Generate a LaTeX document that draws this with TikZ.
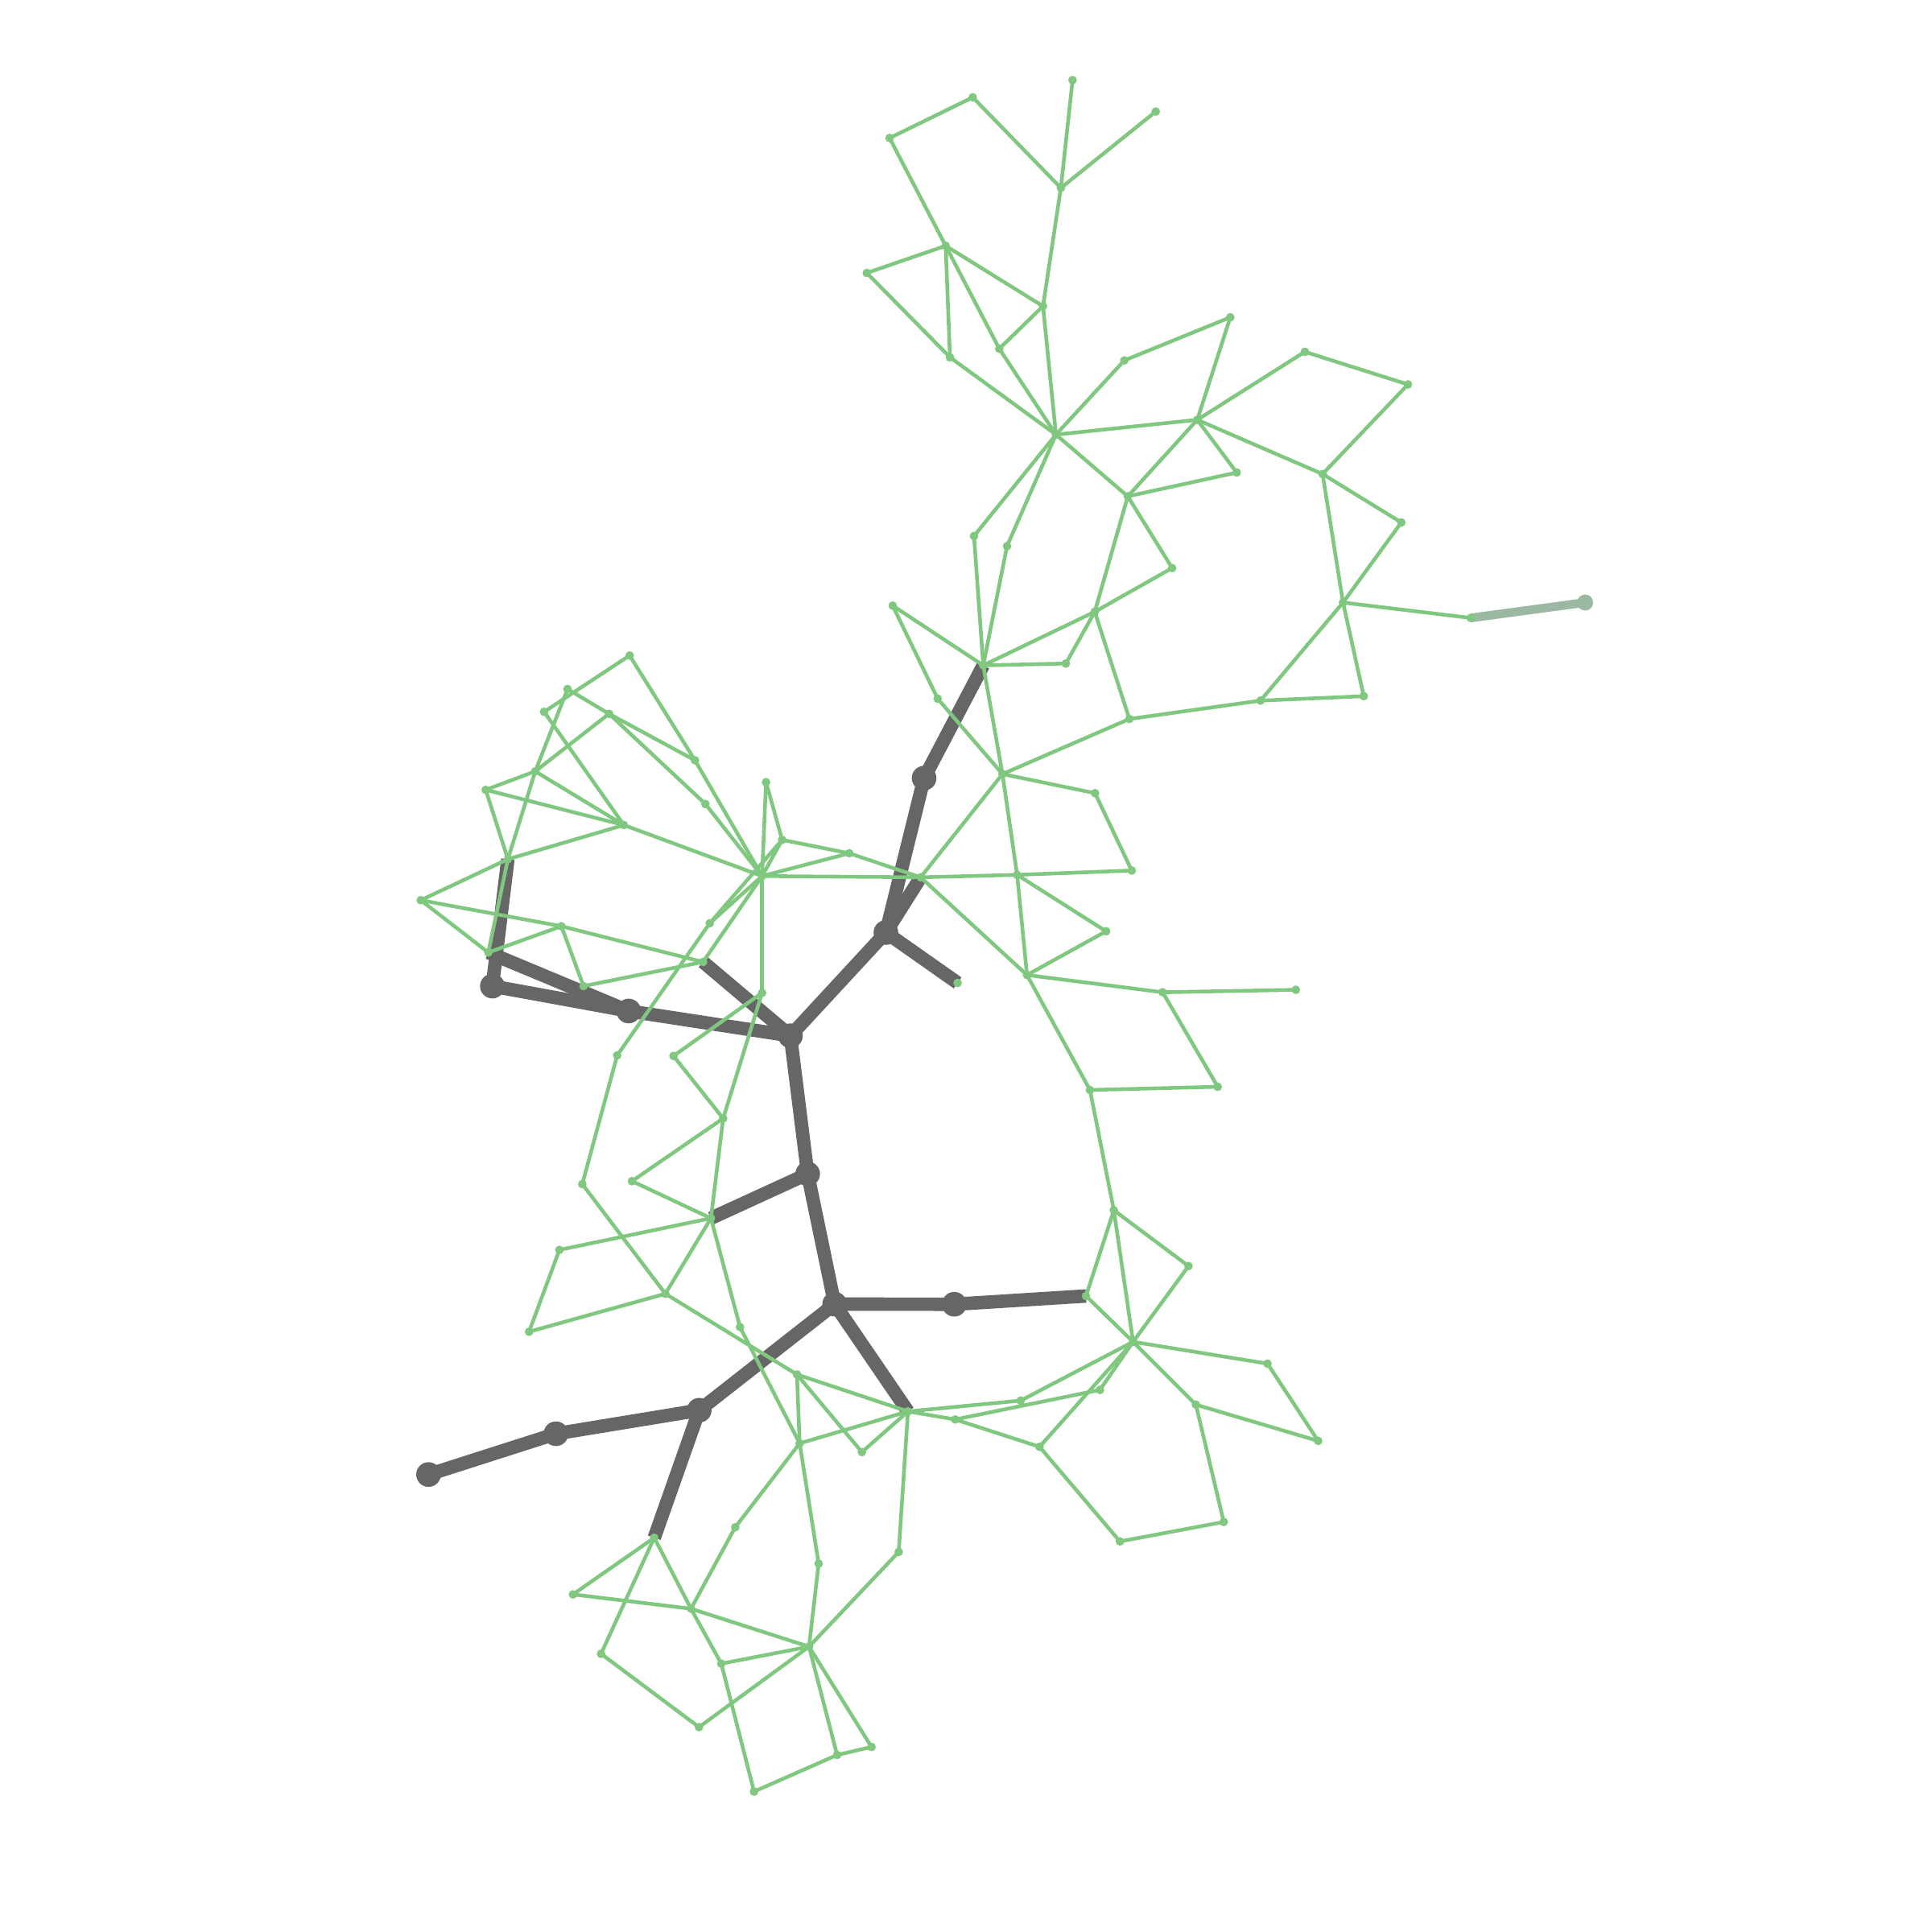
\documentclass[tikz,border=0pt]{standalone}
\usepackage{tikz}
\usetikzlibrary{calc}
\definecolor{edgegreen}{RGB}{128,200,128}
\definecolor{pathgray}{RGB}{102,102,102}
\definecolor{fadegreen}{RGB}{155,184,163}

\begin{document}
\begin{tikzpicture}[x=0.01cm, y=-0.01cm]
    % Define styles with \tikzset
    \tikzset{
        greenedge/.style={draw=edgegreen, line width=0.85pt},
        grayedge/.style={draw=pathgray, line width=3.1pt},
        fadeedge/.style={draw=fadegreen, line width=2pt},
        greendot/.style={fill=edgegreen},
        graydot/.style={fill=pathgray},
        fadedot/.style={fill=fadegreen}
    }
    \useasboundingbox (0,0) rectangle (1568,1568);

    % --- TOP BRANCH ---
    \coordinate (a0) at (857,352.7);
    \coordinate (a1) at (870.5,65);
    \coordinate (a2) at (938,90.5);
    \coordinate (a3) at (789.5,79);
    \coordinate (a4) at (722,112);
    \coordinate (a5) at (861,152.5);
    \coordinate (a6) at (767.5,199.5);
    \coordinate (a7) at (703.5,221.5);
    \coordinate (a8) at (846.5,248.5);
    \coordinate (a9) at (811,283);
    \coordinate (a10) at (771,290);
    \coordinate (a11) at (912.5,292.5);
    \coordinate (a12) at (998.5,257.5);
    \coordinate (a13) at (971.7,340.7);
    \coordinate (a14) at (1003.7,383.5);
    \coordinate (a15) at (1059,285.5);
    \coordinate (a16) at (1142.7,312);
    \coordinate (a17) at (1073.4,384.7);
    \coordinate (a18) at (1137.3,424);
    \coordinate (a19) at (915.3,402.8);
    \coordinate (a20) at (951.3,461);
    \coordinate (a21) at (790.5,435);
    \coordinate (a22) at (817.3,443.2);
    \coordinate (a23) at (888.5,496.5);
    \coordinate (a24) at (1090,489);
    \coordinate (a25) at (1193.6,501.5);
    \coordinate (a26) at (1106.8,565);
    \coordinate (a27) at (1023,568.6);
    \coordinate (a28) at (916.6,583.5);
    \coordinate (a29) at (865,538.5);
    \coordinate (a30) at (798,540);

    % --- RIGHT COLUMN ---
    \coordinate (a31) at (724.5,491.5);
    \coordinate (a32) at (761,567);
    \coordinate (a33) at (813.6,628.2);
    \coordinate (a34) at (888.7,643.7);
    \coordinate (a35) at (918.5,706.5);
    \coordinate (a36) at (747.2,712);
    \coordinate (a37) at (825.5,710);
    \coordinate (a38) at (897.7,755.8);
    \coordinate (a39) at (833.5,791.3);
    \coordinate (a40) at (943.6,805.3);
    \coordinate (a41) at (1051.7,803.3);
    \coordinate (a42) at (884.6,884.6);
    \coordinate (a43) at (988.3,882);
    \coordinate (a44) at (904,982.2);
    \coordinate (a45) at (964.6,1027.5);
    \coordinate (a46) at (881.4,1051.8);
    \coordinate (a47) at (919.6,1089);
    \coordinate (a48) at (1028.7,1106.7);
    \coordinate (a49) at (1069.8,1169.4);
    \coordinate (a50) at (970.6,1140);
    \coordinate (a51) at (993.2,1235.2);
    \coordinate (a52) at (908.9,1251);
    \coordinate (a53) at (843.7,1174.2);
    \coordinate (a54) at (892.7,1128);
    \coordinate (a55) at (828.4,1136.7);
    \coordinate (a56) at (736.9,1145.5);
    \coordinate (a57) at (775.2,1152);

    % --- BOTTOM BRANCH ---
    \coordinate (a58) at (699.5,1178.5);
    \coordinate (a59) at (646.8,1115.5);
    \coordinate (a60) at (649,1171.4);
    \coordinate (a61) at (729.4,1259.5);
    \coordinate (a62) at (664.4,1269);
    \coordinate (a63) at (656.6,1336.4);
    \coordinate (a64) at (596.7,1239.5);
    \coordinate (a65) at (560.8,1305.6);
    \coordinate (a66) at (531,1248);
    \coordinate (a67) at (465,1294);
    \coordinate (a68) at (487.8,1342.2);
    \coordinate (a69) at (567.3,1401.7);
    \coordinate (a70) at (585.4,1350.2);
    \coordinate (a71) at (612,1454);
    \coordinate (a72) at (679.4,1424.3);
    \coordinate (a73) at (707.3,1417.8);

    % --- MIDDLE LEFT ---
    \coordinate (a74) at (600.6,1077);
    \coordinate (a75) at (540,1050);
    \coordinate (a76) at (577,988.7);
    \coordinate (a77) at (454,1014.4);
    \coordinate (a78) at (429.4,1080.8);
    \coordinate (a79) at (472.6,961);
    \coordinate (a80) at (512.9,958.6);
    \coordinate (a81) at (586.9,907.7);
    \coordinate (a82) at (546.6,857);
    \coordinate (a83) at (500.9,856.5);
    \coordinate (a84) at (618.5,805.8);

    % --- LEFT CLUSTER ---
    \coordinate (a85) at (570.6,780.7);
    \coordinate (a86) at (473.6,800.3);
    \coordinate (a87) at (455.6,751.7);
    \coordinate (a88) at (396.3,773);
    \coordinate (a89) at (341.5,730.6);
    \coordinate (a90) at (412.2,697.3);
    \coordinate (a91) at (394.2,641);
    \coordinate (a92) at (434.4,626);
    \coordinate (a93) at (506.3,669.6);
    \coordinate (a94) at (441.6,577.7);
    \coordinate (a95) at (460.6,559.2);
    \coordinate (a96) at (511,532);
    \coordinate (a97) at (494.3,579.3);
    \coordinate (a98) at (564,617);
    \coordinate (a99) at (572.5,652.5);
    \coordinate (a100) at (618.5,711);
    \coordinate (a101) at (621.7,634.8);
    \coordinate (a102) at (634.8,681.6);
    \coordinate (a103) at (689.3,692.5);
    \coordinate (a104) at (576,749.3);
    \coordinate (a105) at (777.2,797.7);

    % --- HIGHLIGHTED PATH (GRAY) ---
    \coordinate (g1) at (750,631.5);
    \coordinate (g2) at (719,756.8);
    \coordinate (g3) at (641.5,840.6);
    \coordinate (g4) at (510.2,820.5);
    \coordinate (g5) at (399.6,800.3);
    \coordinate (g6) at (655.5,952.7);
    \coordinate (g7) at (677.4,1058.4);
    \coordinate (g8) at (774.5,1058.5);
    \coordinate (g9) at (567.5,1144.5);
    \coordinate (g10) at (451.2,1163.6);
    \coordinate (g11) at (347.8,1196.7);
    \coordinate (g12) at (1286.5,489);

    % Gray connections
    \foreach \u/\v in {a30/g1, g1/g2, g2/a36, g2/a105, g2/g3, g3/a85, g3/g4, g4/a88,
        g4/g5, g5/a90, g3/g6, g6/a76, g6/g7, g7/g8, g8/a46, g7/a56, g7/g9,
        g9/g10, g10/g11, g9/a66}
        \draw[grayedge] (\u) -- (\v);
    \draw[fadeedge] (a25) -- (g12);

    % Green connections: top
    \foreach \u/\v in {a4/a3, a3/a5, a5/a1, a5/a2, a5/a8, a4/a6, a6/a7, a6/a8, a6/a10,
        a6/a9, a9/a8, a7/a10, a10/a0, a9/a0, a8/a0, a0/a11, a11/a12, a12/a13,
        a0/a13, a13/a14, a13/a15, a13/a17, a13/a19, a19/a14, a0/a19, a0/a21,
        a0/a22, a15/a16, a16/a17, a17/a18, a17/a24, a18/a24, a24/a25, a24/a26,
        a24/a27, a26/a27, a27/a28, a19/a23, a19/a20, a20/a23, a23/a30, a23/a29,
        a23/a28, a30/a29, a21/a30, a22/a30, a31/a30, a31/a32, a32/a33, a30/a33,
        a28/a33}
        \draw[greenedge] (\u) -- (\v);

    % Green connections: right column
    \foreach \u/\v in {a33/a34, a34/a35, a33/a36, a33/a37, a36/a37, a37/a35, a37/a38,
        a37/a39, a38/a39, a36/a39, a39/a40, a40/a41, a40/a43, a39/a42, a42/a43,
        a42/a44, a44/a45, a44/a46, a44/a47, a45/a47, a46/a47, a47/a48, a48/a49,
        a47/a50, a50/a49, a50/a51, a51/a52, a52/a53, a53/a47, a47/a54, a54/a57,
        a47/a55, a55/a56, a56/a57, a57/a53}
        \draw[greenedge] (\u) -- (\v);

    % Green connections: bottom
    \foreach \u/\v in {a59/a56, a59/a58, a58/a56, a60/a56, a56/a61, a61/a63, a60/a62,
        a62/a63, a59/a60, a74/a60, a75/a59, a60/a64, a64/a65, a66/a67, a66/a65,
        a66/a68, a67/a65, a65/a63, a65/a70, a70/a63, a68/a69, a69/a63, a70/a71,
        a71/a72, a72/a73, a63/a72, a63/a73}
        \draw[greenedge] (\u) -- (\v);

    % Green connections: middle left and left cluster
    \foreach \u/\v in {a76/a74, a81/a76, a80/a76, a81/a80, a76/a77, a77/a78, a78/a75,
        a75/a76, a79/a75, a83/a79, a82/a81, a84/a82, a84/a81, a100/a84, a101/a100,
        a101/a102, a102/a100, a102/a103, a103/a100, a103/a36, a100/a36,
        a104/a100, a102/a104, a104/a83, a85/a100, a96/a94, a96/a98, a98/a100,
        a95/a97, a97/a98, a95/a92, a92/a90, a94/a93, a97/a92, a97/a99, a99/a100,
        a91/a92, a92/a93, a91/a93, a91/a90, a90/a93, a93/a100, a89/a90, a89/a88,
        a89/a87, a87/a85, a88/a87, a87/a86, a86/a85, a90/a88}
        \draw[greenedge] (\u) -- (\v);

    % Node dots
    \foreach \i in {1,...,11}
        \fill[graydot] (g\i) circle[radius=0.1cm];
    \fill[fadedot] (g12) circle[radius=0.065cm];
    \foreach \i in {0,...,105}
        \fill[greendot] (a\i) circle[radius=0.035cm];

\end{tikzpicture}
\end{document}
